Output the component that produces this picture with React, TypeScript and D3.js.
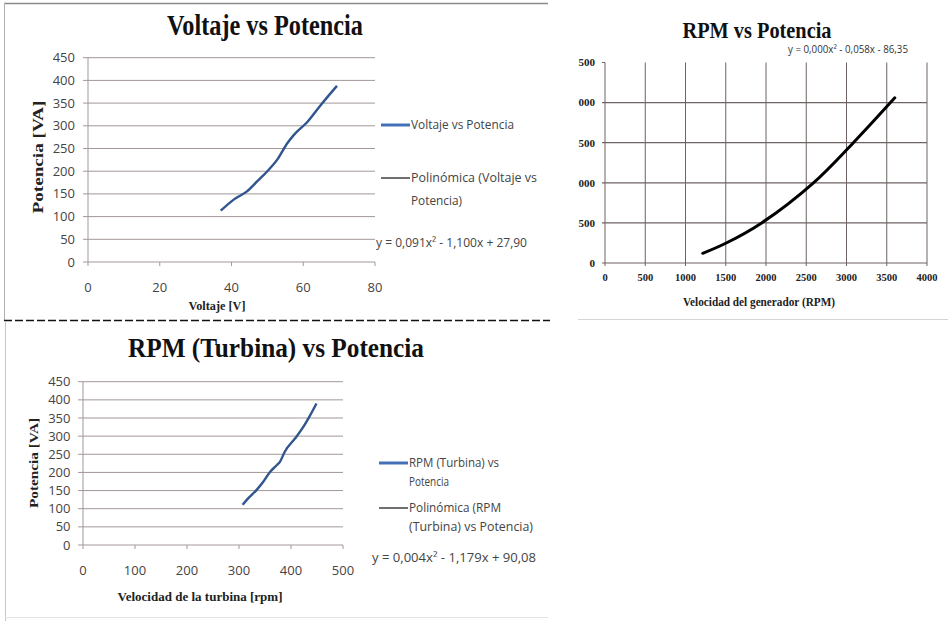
import React from 'react';
import * as d3 from 'd3';

// Chart 1: Voltaje vs Potencia
const voltaje = [37, 40.7, 44.4, 47.2, 50, 52.8, 55.6, 57.4, 61.2, 64.9, 69.4];
const potenciaVoltaje = [113, 138, 156, 178, 200, 226, 262, 280, 309, 346, 388];
const voltajeTicks = [0, 20, 40, 60, 80];

// Chart 2: RPM vs Potencia (generador)
const rpmGenerador = [1214, 1500, 1946, 2590, 3085, 3600];
const potenciaGenerador = [121, 246, 500, 1000, 1500, 2060];
const generadorTicks = [0, 500, 1000, 1500, 2000, 2500, 3000, 3500, 4000];
const generadorPotTicks = [0, 500, 1000, 1500, 2000, 2500];
const generadorPotLabels = ['0', '500', '000', '500', '000', '500'];

// Chart 3: RPM (Turbina) vs Potencia
const rpmTurbina = [307, 318, 334, 347, 360, 372, 379, 388, 408, 424, 437, 449];
const potenciaTurbina = [111, 129, 152, 175, 202, 219, 230, 257, 294, 326, 358, 390];
const turbinaTicks = [0, 100, 200, 300, 400, 500];

const potenciaTicks = [0, 50, 100, 150, 200, 250, 300, 350, 400, 450];

const SERIF = '"Liberation Serif", "Times New Roman", serif';
const SANS = '"Open Sans", "Liberation Sans", Arial, sans-serif';
const GRID = '#a39797';
const BLUE = '#30558f';
const TEXT = '#444';

type ExcelProps = {
  xs: number[];
  ys: number[];
  xTicks: number[];
  xDomain: [number, number];
  xRange: [number, number];
  yRange: [number, number];
  yLabelX: number;
  xLabelY: number;
  title: string;
  titleX: number;
  titleY: number;
  titleSize: number;
  titleLen: number;
  xTitle: string;
  xTitleX: number;
  xTitleY: number;
  xTitleSize: number;
  xTitleLen: number;
  yTitleX: number;
  yTitleY: number;
  yTitleSize: number;
  yTitleLen: number;
  legend: { kind: 'series' | 'trend'; lineY: number; lines: { text: string; y: number; len: number }[] }[];
  legendX: number;
  equation: string;
  eqX: number;
  eqY: number;
  eqLen: number;
};

function ExcelChart(p: ExcelProps) {
  const x = d3.scaleLinear().domain(p.xDomain).range(p.xRange);
  const y = d3.scaleLinear().domain([0, 450]).range(p.yRange);
  const pts = p.xs.map((v, i) => [v, p.ys[i]] as [number, number]);
  const line = d3
    .line<[number, number]>()
    .x((d) => x(d[0]))
    .y((d) => y(d[1]))
    .curve(d3.curveMonotoneX);
  const [x0, x1] = p.xRange;
  return (
    <g>
      {potenciaTicks.map((t) => (
        <g key={t}>
          <line x1={x0 - 5} x2={x1} y1={y(t)} y2={y(t)} stroke={GRID} strokeWidth={1} />
          <text x={p.yLabelX} y={y(t)} dy="0.35em" textAnchor="end" fontFamily={SANS} fontSize={13} fill={TEXT}>
            {t}
          </text>
        </g>
      ))}
      <line x1={x0} x2={x0} y1={p.yRange[1]} y2={p.yRange[0]} stroke={GRID} strokeWidth={1} />
      {p.xTicks.map((t) => (
        <g key={t}>
          <line x1={x(t)} x2={x(t)} y1={p.yRange[0]} y2={p.yRange[0] + 4} stroke={GRID} strokeWidth={1} />
          <text x={x(t)} y={p.xLabelY} textAnchor="middle" fontFamily={SANS} fontSize={13} fill={TEXT}>
            {t}
          </text>
        </g>
      ))}
      <path d={line(pts) || ''} fill="none" stroke={BLUE} strokeWidth={2.4} strokeLinejoin="round" />
      <text
        x={p.titleX}
        y={p.titleY}
        textAnchor="middle"
        fontFamily={SERIF}
        fontWeight="bold"
        fontSize={p.titleSize}
        textLength={p.titleLen}
        lengthAdjust="spacingAndGlyphs"
        fill="#111"
      >
        {p.title}
      </text>
      <text
        x={p.xTitleX}
        y={p.xTitleY}
        textAnchor="middle"
        fontFamily={SERIF}
        fontWeight="bold"
        fontSize={p.xTitleSize}
        textLength={p.xTitleLen}
        lengthAdjust="spacingAndGlyphs"
        fill="#222"
      >
        {p.xTitle}
      </text>
      <text
        transform={`translate(${p.yTitleX},${p.yTitleY}) rotate(-90)`}
        textAnchor="middle"
        fontFamily={SERIF}
        fontWeight="bold"
        fontSize={p.yTitleSize}
        textLength={p.yTitleLen}
        lengthAdjust="spacingAndGlyphs"
        fill="#222"
      >
        Potencia [VA]
      </text>
      {p.legend.map((l, i) => (
        <g key={i}>
          <line
            x1={p.legendX - 30}
            x2={p.legendX - 1}
            y1={l.lineY}
            y2={l.lineY}
            stroke={l.kind === 'series' ? '#4470b8' : '#333'}
            strokeWidth={l.kind === 'series' ? 3 : 1.4}
          />
          {l.lines.map((t, j) => (
            <text
              key={j}
              x={p.legendX}
              y={t.y}
              dy="0.35em"
              fontFamily={SANS}
              fontSize={12.5}
              textLength={t.len}
              lengthAdjust="spacingAndGlyphs"
              fill={TEXT}
            >
              {t.text}
            </text>
          ))}
        </g>
      ))}
      <text
        x={p.eqX}
        y={p.eqY}
        dy="0.35em"
        fontFamily={SANS}
        fontSize={12.5}
        textLength={p.eqLen}
        lengthAdjust="spacingAndGlyphs"
        fill={TEXT}
      >
        {p.equation}
      </text>
    </g>
  );
}

function GeneratorChart() {
  const x = d3.scaleLinear().domain([0, 4000]).range([605, 927]);
  const y = d3.scaleLinear().domain([0, 2500]).range([263, 62.5]);
  const pts = rpmGenerador.map((v, i) => [v, potenciaGenerador[i]] as [number, number]);
  const line = d3
    .line<[number, number]>()
    .x((d) => x(d[0]))
    .y((d) => y(d[1]))
    .curve(d3.curveCatmullRom.alpha(0.5));
  const gridC = '#6e6262';
  return (
    <g>
      <line x1={578} x2={948} y1={319.5} y2={319.5} stroke="#d4d4d4" strokeWidth={1} />
      {generadorTicks.map((t) => (
        <g key={t}>
          <line x1={x(t)} x2={x(t)} y1={y(2500)} y2={y(0) + 3} stroke={gridC} strokeWidth={1} />
          <text x={x(t)} y={281} textAnchor="middle" fontFamily={SERIF} fontWeight="bold" fontSize={10.5} fill="#222">
            {t}
          </text>
        </g>
      ))}
      {generadorPotTicks.map((t, i) => (
        <g key={t}>
          {t < 2500 && <line x1={x(0) - 3} x2={x(4000)} y1={y(t)} y2={y(t)} stroke={gridC} strokeWidth={1.2} />}
          {t === 2500 && <line x1={x(0) - 3} x2={x(0)} y1={y(t)} y2={y(t)} stroke={gridC} strokeWidth={1} />}
          <text x={595} y={y(t)} dy="0.35em" textAnchor="end" fontFamily={SERIF} fontWeight="bold" fontSize={11} fill="#222">
            {generadorPotLabels[i]}
          </text>
        </g>
      ))}
      <path d={line(pts) || ''} fill="none" stroke="#000" strokeWidth={3} strokeLinecap="round" />
      <text
        x={757}
        y={38}
        textAnchor="middle"
        fontFamily={SERIF}
        fontWeight="bold"
        fontSize={23}
        textLength={149}
        lengthAdjust="spacingAndGlyphs"
        fill="#111"
      >
        RPM vs Potencia
      </text>
      <text
        x={788}
        y={53}
        fontFamily={SANS}
        fontSize={10}
        textLength={120}
        lengthAdjust="spacingAndGlyphs"
        fill="#333"
      >
        y = 0,000x² - 0,058x - 86,35
      </text>
      <text
        x={759}
        y={306}
        textAnchor="middle"
        fontFamily={SERIF}
        fontWeight="bold"
        fontSize={12}
        textLength={152}
        lengthAdjust="spacingAndGlyphs"
        fill="#222"
      >
        Velocidad del generador (RPM)
      </text>
    </g>
  );
}

export default function App() {
  return (
    <svg
      width={948}
      height={621}
      viewBox="0 0 948 621"
      style={{ position: 'absolute', left: 0, top: 0, background: '#fff' }}
    >
      <rect x={0} y={0} width={948} height={621} fill="#fff" />
      {/* panel frames */}
      <line x1={4} x2={548} y1={3.5} y2={3.5} stroke="#8a8a8a" strokeWidth={1.5} />
      <line x1={4.5} x2={4.5} y1={3} y2={320} stroke="#b0b0b0" strokeWidth={1} />
      <line x1={4} x2={550} y1={320.5} y2={320.5} stroke="#111" strokeWidth={1.5} strokeDasharray="8 3" />
      <line x1={5.5} x2={5.5} y1={322} y2={621} stroke="#c8c8c8" strokeWidth={1} />
      <line x1={5} x2={548} y1={617.5} y2={617.5} stroke="#e4e4e4" strokeWidth={1} />

      <ExcelChart
        xs={voltaje}
        ys={potenciaVoltaje}
        xTicks={voltajeTicks}
        xDomain={[0, 80]}
        xRange={[88, 375]}
        yRange={[262, 57.7]}
        yLabelX={75}
        xLabelY={292}
        title="Voltaje vs Potencia"
        titleX={265}
        titleY={35}
        titleSize={30}
        titleLen={196}
        xTitle="Voltaje [V]"
        xTitleX={217}
        xTitleY={310}
        xTitleSize={13}
        xTitleLen={57}
        yTitleX={43}
        yTitleY={157}
        yTitleSize={15}
        yTitleLen={113}
        legendX={411}
        legend={[
          { kind: 'series', lineY: 125, lines: [{ text: 'Voltaje vs Potencia', y: 125, len: 103 }] },
          {
            kind: 'trend',
            lineY: 178,
            lines: [
              { text: 'Polinómica (Voltaje vs', y: 178, len: 126 },
              { text: 'Potencia)', y: 201, len: 51 },
            ],
          },
        ]}
        equation="y = 0,091x² - 1,100x + 27,90"
        eqX={376}
        eqY={243}
        eqLen={151}
      />

      <GeneratorChart />

      <ExcelChart
        xs={rpmTurbina}
        ys={potenciaTurbina}
        xTicks={turbinaTicks}
        xDomain={[0, 500]}
        xRange={[83, 343]}
        yRange={[545, 381.7]}
        yLabelX={70.5}
        xLabelY={575}
        title="RPM (Turbina) vs Potencia"
        titleX={276}
        titleY={357}
        titleSize={28}
        titleLen={296}
        xTitle="Velocidad de la turbina [rpm]"
        xTitleX={200}
        xTitleY={601}
        xTitleSize={13}
        xTitleLen={165}
        yTitleX={38}
        yTitleY={463}
        yTitleSize={13}
        yTitleLen={90}
        legendX={409}
        legend={[
          {
            kind: 'series',
            lineY: 463,
            lines: [
              { text: 'RPM (Turbina) vs', y: 463, len: 90 },
              { text: 'Potencia', y: 482, len: 40 },
            ],
          },
          {
            kind: 'trend',
            lineY: 508,
            lines: [
              { text: 'Polinómica (RPM', y: 508, len: 92 },
              { text: '(Turbina) vs Potencia)', y: 527, len: 124 },
            ],
          },
        ]}
        equation="y = 0,004x² - 1,179x + 90,08"
        eqX={372}
        eqY={558}
        eqLen={164}
      />
    </svg>
  );
}
